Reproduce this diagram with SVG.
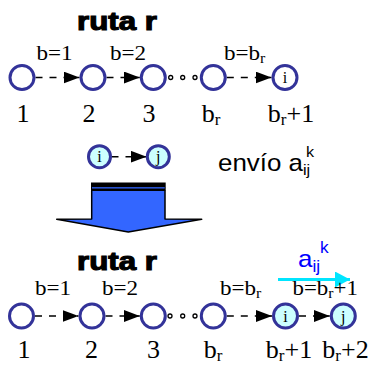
<svg xmlns="http://www.w3.org/2000/svg" width="369" height="367" viewBox="0 0 369 367">
<style>
.nd{fill:#fff;stroke:#333399;stroke-width:3}
.nf{fill:#ccffff;stroke:#333399;stroke-width:3}
.cn{fill:none;stroke:#000;stroke-width:1.5;stroke-dasharray:7 7}
.dot{fill:#fff;stroke:#000;stroke-width:1.3}
.sr{font-family:'Liberation Serif','Times New Roman','DejaVu Serif',serif;fill:#000}
.lb{font-size:22px}
.nm{font-size:26px}
.ss{font-family:'Liberation Sans',Arial,sans-serif}
.tt{font-family:'Liberation Sans',Arial,sans-serif;font-weight:bold;font-size:25px;fill:#000;stroke:#000;stroke-width:1.1}
.in{font-family:'Liberation Serif','Times New Roman','DejaVu Serif',serif;font-size:16px;text-anchor:middle}
</style>
<defs>
<marker id="ah" markerWidth="16" markerHeight="12" refX="16" refY="6" orient="auto" markerUnits="userSpaceOnUse"><path d="M0,0 L16,6 L0,12 Z" fill="#000"/></marker>
<marker id="ahc" markerWidth="16" markerHeight="16" refX="15" refY="8" orient="auto" markerUnits="userSpaceOnUse"><path d="M0,0 L15,8 L0,16 Z" fill="#00e5ff"/></marker>
</defs>

<!-- top route -->
<text class="tt" transform="translate(77 30) scale(1.25 1)">ruta r</text>
<g class="sr lb">
<text transform="translate(36.5 60) scale(1.05 1)">b=1</text>
<text transform="translate(110 60) scale(1.05 1)">b=2</text>
<text transform="translate(224 60) scale(1.05 1)">b=b<tspan font-size="15" dy="3">r</tspan></text>
</g>
<g class="sr nm" text-anchor="middle">
<text x="23" y="121.5">1</text>
<text x="89" y="121.5">2</text>
<text x="149" y="121.5">3</text>
<text x="211" y="121.5">b<tspan font-size="17" dy="3">r</tspan></text>
<text x="291" y="121.5">b<tspan font-size="17" dy="3">r</tspan><tspan dy="-3">+1</tspan></text>
</g>

<g id="connectors">
<path class="cn" d="M35.5,77.5 H79.5" marker-end="url(#ah)"/>
<path class="cn" d="M106.5,77.5 H139.8" marker-end="url(#ah)"/>
<path class="cn" d="M226.8,77.5 H271.5" marker-end="url(#ah)"/>
<path class="cn" d="M111.5,156.7 H146.6" stroke-dasharray="6.5 6.5" marker-end="url(#ah)"/>
<path class="cn" d="M35,316 H78.5" marker-end="url(#ah)"/>
<path class="cn" d="M105.5,316 H139.8" marker-end="url(#ah)"/>
<path class="cn" d="M226.8,316 H272" marker-end="url(#ah)"/>
<path class="cn" d="M299,316 H329.8" marker-end="url(#ah)"/>
<path d="M278,279.5 H350" stroke="#00e5ff" stroke-width="3" fill="none" marker-end="url(#ahc)"/>
</g>

<g id="top-nodes">
<g id="t1"><circle class="nd" cx="22" cy="77.5" r="12"/></g>
<g id="t2"><circle class="nd" cx="93" cy="77.5" r="12"/></g>
<g id="t3"><circle class="nd" cx="153.3" cy="77.5" r="12"/></g>
<g id="tdots"><circle class="dot" cx="170.7" cy="77.5" r="2"/><circle class="dot" cx="182.7" cy="77.5" r="2"/><circle class="dot" cx="195" cy="77.5" r="2"/></g>
<g id="tbr"><circle class="nd" cx="213.3" cy="77.5" r="12"/></g>
<g id="tbr1"><circle class="nd" cx="285" cy="77.5" r="12"/><text class="in" x="285" y="83">i</text></g>
</g>

<!-- middle -->
<g id="mi"><circle class="nf" cx="99.5" cy="156.7" r="11"/><text class="in" x="99.5" y="162.2">i</text></g>
<g id="mj"><circle class="nf" cx="158.3" cy="156.7" r="11"/><text class="in" x="158.3" y="162.2">j</text></g>
<g class="ss" font-size="24">
<text transform="translate(218 170.5) scale(1.08 1)">envío a<tspan font-size="15" dy="4">ij</tspan></text>
<text font-size="15" transform="translate(306 157) scale(1.08 1)">k</text>
</g>

<g id="big-arrow">
<path d="M91.7,190.5 V219 L56.7,219.3 L128.3,232 L201.7,219.3 L165,219 V190.5" fill="#3366ff" stroke="#000" stroke-width="1.5" stroke-linejoin="round"/>
<rect x="91" y="182.5" width="74.7" height="8.5" fill="#000"/>
<rect x="92" y="187.2" width="72.7" height="1.3" fill="#3366ff"/>
</g>

<!-- bottom route -->
<text class="tt" transform="translate(77 270) scale(1.25 1)">ruta r</text>
<g class="ss" fill="#0000ff">
<text font-size="24" transform="translate(298 267) scale(1.08 1)">a<tspan font-size="16" dy="5">ij</tspan></text>
<text font-size="16" transform="translate(320 253) scale(1.08 1)">k</text>
</g>
<g class="sr lb">
<text transform="translate(35 294.5) scale(1.05 1)">b=1</text>
<text transform="translate(102 294.5) scale(1.05 1)">b=2</text>
<text transform="translate(220 294.5) scale(1.05 1)">b=b<tspan font-size="15" dy="3">r</tspan></text>
<text transform="translate(292.5 294.5) scale(1.04 1)">b=b<tspan font-size="15" dy="3">r</tspan><tspan dy="-3">+1</tspan></text>
</g>
<g class="sr nm" text-anchor="middle">
<text x="24" y="358">1</text>
<text x="91.5" y="358">2</text>
<text x="153.5" y="358">3</text>
<text x="213" y="358">b<tspan font-size="17" dy="3">r</tspan></text>
<text x="289" y="358">b<tspan font-size="17" dy="3">r</tspan><tspan dy="-3">+1</tspan></text>
<text x="345.5" y="358">b<tspan font-size="17" dy="3">r</tspan><tspan dy="-3">+2</tspan></text>
</g>

<g id="bottom-nodes">
<g id="b1"><circle class="nd" cx="21.5" cy="316" r="12"/></g>
<g id="b2"><circle class="nd" cx="92" cy="316" r="12"/></g>
<g id="b3"><circle class="nd" cx="153.3" cy="316" r="12"/></g>
<g id="bdots"><circle class="dot" cx="170" cy="316" r="2"/><circle class="dot" cx="182.7" cy="316" r="2"/><circle class="dot" cx="195" cy="316" r="2"/></g>
<g id="bbr"><circle class="nd" cx="213.3" cy="316" r="12"/></g>
<g id="bi"><circle class="nf" cx="285.5" cy="316" r="12"/><text class="in" x="285.5" y="321.5">i</text></g>
<g id="bj"><circle class="nf" cx="343.3" cy="316" r="12"/><text class="in" x="343.3" y="321.5">j</text></g>
</g>
</svg>
